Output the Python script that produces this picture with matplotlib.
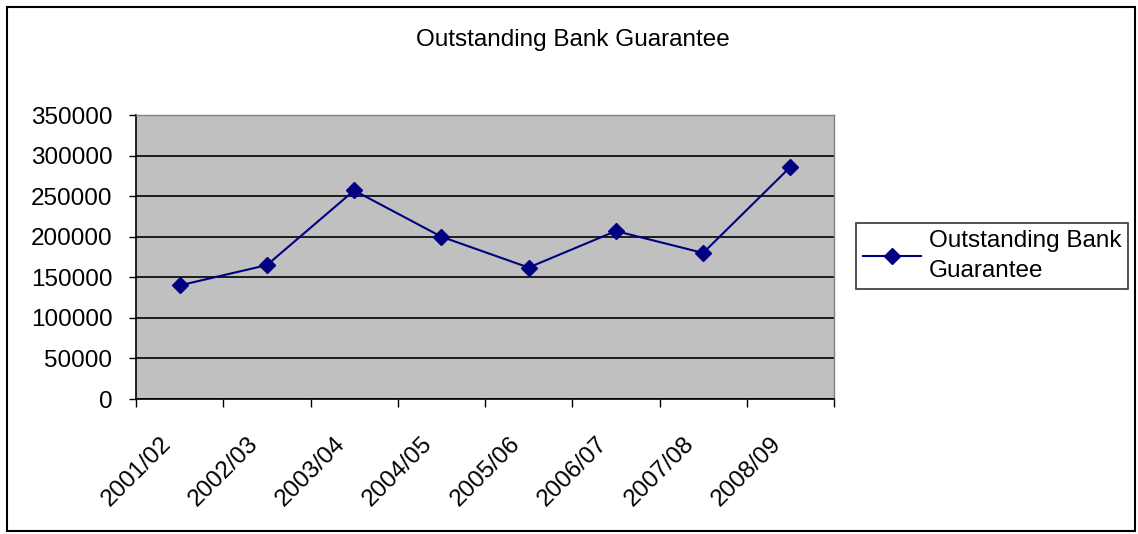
import matplotlib.pyplot as plt
from matplotlib.patches import Rectangle
from matplotlib.lines import Line2D
from matplotlib.transforms import ScaledTranslation

plt.rcParams['font.family'] = ['Liberation Sans', 'DejaVu Sans']

years = ['2001/02', '2002/03', '2003/04', '2004/05',
         '2005/06', '2006/07', '2007/08', '2008/09']
guarantee = [140000, 165000, 257000, 200000, 162000, 207000, 180000, 286000]
y_ticks = [0, 50000, 100000, 150000, 200000, 250000, 300000, 350000]

NAVY = '#000080'
FS = 17.5

fig = plt.figure(figsize=(11.38, 5.34), dpi=100)

# outer chart border
fig.patches.append(Rectangle((7 / 1138, 3 / 534), 1128 / 1138, 524 / 534,
                             transform=fig.transFigure, fill=False,
                             edgecolor='black', linewidth=1.5))

ax = fig.add_axes([136 / 1138, 1 - 399 / 534, 698 / 1138, 284 / 534])
ax.set_facecolor('#c0c0c0')

x = range(len(years))
ax.plot(x, guarantee, color=NAVY, linewidth=1.5, marker='D',
        markersize=8.5, markerfacecolor=NAVY, markeredgecolor=NAVY)

ax.set_xlim(-0.5, len(years) - 0.5)
ax.set_ylim(0, 350000)
ax.set_yticks(y_ticks)
ax.set_yticklabels([str(v) for v in y_ticks], fontsize=FS)
ax.set_xticks([i + 0.5 for i in range(-1, len(years))], minor=False)
ax.set_xticklabels([])
ax.set_xticks(list(x), minor=True)
ax.set_xticklabels(years, minor=True, rotation=45, ha='right',
                   rotation_mode='anchor', fontsize=FS)
ax.tick_params(axis='x', which='minor', length=0, pad=10)
ax.tick_params(axis='x', which='major', length=6, direction='out', width=1)
ax.tick_params(axis='y', length=5, direction='out', width=1, pad=12)

# category labels sit a little lower and to the left of the category centre
shift = ScaledTranslation(-0.20, -0.20, fig.dpi_scale_trans)
for lbl in ax.get_xticklabels(minor=True):
    lbl.set_transform(lbl.get_transform() + shift)

ax.grid(axis='y', color='black', linewidth=1.2)
ax.set_axisbelow(True)
for side in ['top', 'right']:
    ax.spines[side].set_color('#808080')
    ax.spines[side].set_linewidth(1)
for side in ['left', 'bottom']:
    ax.spines[side].set_color('black')
    ax.spines[side].set_linewidth(1.2)

fig.text(573 / 1138, 1 - 40 / 534, 'Outstanding Bank Guarantee',
         ha='center', va='center', fontsize=FS)

handle = Line2D([], [], color=NAVY, linewidth=1.5, marker='D',
                markersize=8.5, markerfacecolor=NAVY)
leg = fig.legend([handle], ['Outstanding Bank\nGuarantee'],
                 loc='center', bbox_to_anchor=(992 / 1138, 1 - 256 / 534),
                 fontsize=FS, frameon=True, fancybox=False,
                 edgecolor='black', handlelength=2.4, borderpad=0.3,
                 handletextpad=0.3, labelspacing=0.2)
leg.get_frame().set_linewidth(1.2)
for t in leg.get_texts():
    t.set_linespacing(1.45)

fig.savefig('out.png', dpi=100)
